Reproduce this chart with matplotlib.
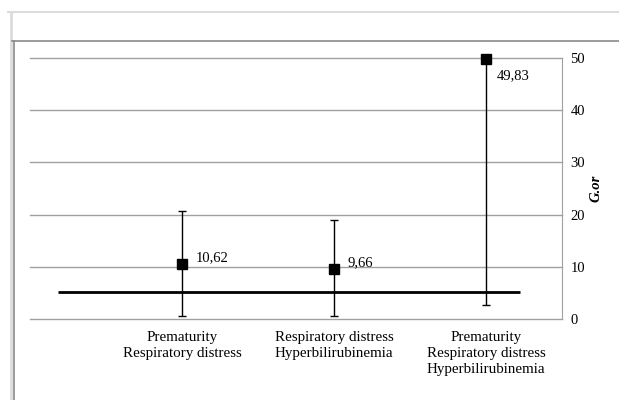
import numpy as np
import matplotlib.pyplot as plt
from matplotlib.lines import Line2D

# Daten
categories = ['Prematurity\nRespiratory distress',
              'Respiratory distress\nHyperbilirubinemia',
              'Prematurity\nRespiratory distress\nHyperbilirubinemia']
values = [10.62, 9.66, 49.83]
lower = [0.6, 0.6, 2.6]
upper = [20.6, 19.0, 49.83]
labels = ['10,62', '9,66', '49,83']
ref_value = 5.2

plt.rcParams['font.family'] = ['Liberation Serif', 'DejaVu Serif']

fig = plt.figure(figsize=(6.19, 4.0), dpi=100)
W, H = 619, 400

# Rahmen um die Grafik
def fig_line(x0, y0, x1, y1, color, lw):
    fig.add_artist(Line2D([x0 / W, x1 / W], [1 - y0 / H, 1 - y1 / H],
                          transform=fig.transFigure, color=color, lw=lw))

fig_line(8, 12, 619, 12, '#dcdcdc', 1.5)
fig_line(10.5, 12, 10.5, 400, '#dcdcdc', 2.0)
fig_line(12, 41, 619, 41, '#8a8a8a', 1.2)
fig_line(14, 41, 14, 400, '#8a8a8a', 1.2)

ax = fig.add_axes([30 / W, 1 - 319 / H, (562 - 30) / W, (319 - 58) / H])

x = np.arange(len(categories))
vals = np.array(values)
yerr = [vals - np.array(lower), np.array(upper) - vals]

ax.set_xlim(-1, 2.5)
ax.set_ylim(0, 50)
ax.set_yticks([0, 10, 20, 30, 40, 50])
ax.yaxis.grid(True, color='#a0a0a0', lw=1.0)
for gl in ax.get_ygridlines():
    gl.set_clip_on(False)
ax.set_axisbelow(True)

# Referenzlinie
ax.hlines(ref_value, -0.815, 2.225, color='black', lw=2.0, zorder=2)

ax.errorbar(x, vals, yerr=yerr, fmt='none', ecolor='black', elinewidth=1.0,
            capsize=3, capthick=1.0, zorder=3)
ax.plot(x, vals, 's', color='black', ms=6.5, zorder=4, clip_on=False)

offsets = [(10, 4), (10, 4), (8, -12)]
for xi, v, lab, off in zip(x, vals, labels, offsets):
    ax.annotate(lab, (xi, v), xytext=off, textcoords='offset points',
                fontsize=10.5, va='center', ha='left')

for sp in ['top', 'left', 'bottom']:
    ax.spines[sp].set_visible(False)
ax.spines['right'].set_color('#a0a0a0')

ax.yaxis.tick_right()
ax.yaxis.set_label_position('right')
ax.tick_params(axis='y', length=0, pad=6, labelsize=10.5)
ax.set_xticks(x)
ax.set_xticklabels(categories, fontsize=10.8, linespacing=1.25)
ax.tick_params(axis='x', length=0, pad=9)

ax.set_ylabel('G.or', fontsize=10.5, fontweight='bold', style='italic', labelpad=3)

fig.savefig('out.png', dpi=100)
